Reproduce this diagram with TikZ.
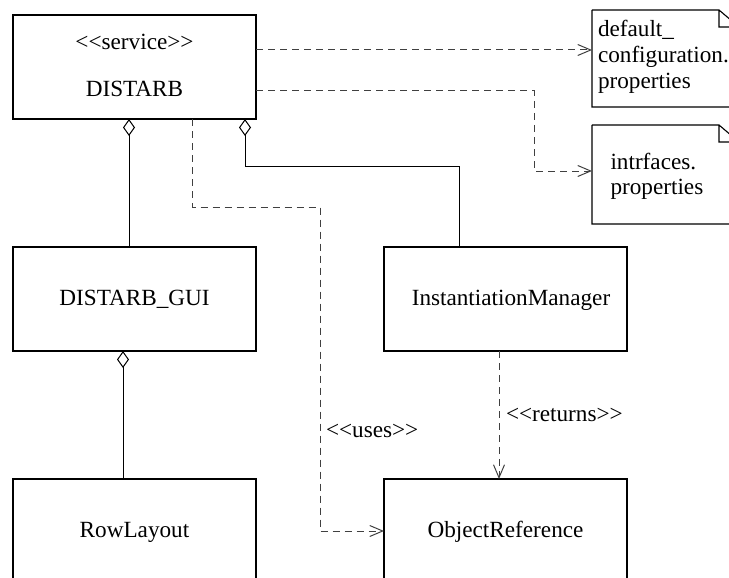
\documentclass[tikz,border=0pt]{standalone}
\usepackage{fontspec}
\newfontfamily\ser{Liberation Serif}
\usetikzlibrary{arrows.meta}
\begin{document}
\begin{tikzpicture}[x=1pt,y=-1pt,
  box/.style={draw, line width=1.1pt, minimum width=243pt, minimum height=104pt, inner sep=0pt, outer sep=0pt},
  txt/.style={font=\ser\fontsize{23.2}{27}\selectfont, inner sep=0pt, outer sep=0pt, anchor=base},
  txtl/.style={txt, anchor=base west},
  dep/.style={draw=black!75, line width=1pt, dash pattern=on 7pt off 5pt, -{Straight Barb[length=13pt,width=11pt,line width=1pt]}},
  gen/.style={line width=1pt, -{Diamond[open,length=17pt,width=12pt,line width=1pt]}},
  note/.style={line width=1.1pt},
  anchorbox/.style={inner sep=0pt, outer sep=0pt, anchor=north west}
]
\useasboundingbox (0,0) rectangle (729,578);
\clip (0,0) rectangle (729,578);

% class boxes
\node[box] (dist) at (134.5,67) {};
\node[box] (gui) at (134.5,299) {};
\node[box] (im) at (505.5,299) {};
\node[box] (row) at (134.5,531) {};
\node[box] (obj) at (505.5,531) {};

% class texts
\node[txt] (tserv) at (134.5,50) {<<service>>};
\node[txt] (tdist) at (134.5,97) {DISTARB};
\node[txt] (tgui) at (134.5,305) {DISTARB\_GUI};
\node[txt] (tim) at (511,305) {InstantiationManager};
\node[txt] (trow) at (134.5,537) {RowLayout};
\node[txt] (tobj) at (505.5,537) {ObjectReference};

% notes
\node[anchorbox, minimum width=150pt, minimum height=97pt] (n1) at (592,10) {};
\node[anchorbox, minimum width=150pt, minimum height=99pt] (n2) at (592,125) {};
\draw[note] (n1.north west) -- ++(127,0) -- ++(20,17) (n1.north west) ++(127,0) -- ++(0,17) -- ++(20,0)
  (n1.north west) -- (n1.south west) -- (n1.south east);
\draw[note] (n2.north west) -- ++(127,0) -- ++(20,17) (n2.north west) ++(127,0) -- ++(0,17) -- ++(20,0)
  (n2.north west) -- (n2.south west) -- (n2.south east);
\node[txtl] (n1a) at (598,37) {default\_};
\node[txtl] (n1b) at (598,63) {configuration.};
\node[txtl] (n1c) at (598,88.5) {properties};
\node[txtl] (n2a) at (610.5,169) {intrfaces.};
\node[txtl] (n2b) at (610.5,194) {properties};

% connectors
\coordinate (k2) at (534,171);
\coordinate (u1) at (320,207);
\coordinate (g5) at (245,166);
\draw[dep] ([yshift=17pt]dist.east) -- ([yshift=17pt]dist.east -| n1.west);
\draw[dep] ([yshift=-24pt]dist.east) -| (k2) -- (k2 -| n2.west);
\draw[dep] ([xshift=179.7pt]dist.south west) |- (u1) -- (u1 |- obj.west) -- (obj.west);
\draw[gen] ([xshift=116pt]gui.north west) -- ([xshift=116pt]dist.south west);
\draw[gen] ([xshift=75pt]im.north west) |- (g5) -- ([xshift=232pt]dist.south west);
\draw[gen] ([xshift=110pt]row.north west) -- ([xshift=110pt]gui.south west);
\draw[dep] ([xshift=115pt]im.south west) -- ([xshift=115pt]obj.north west);

% labels
\node[txtl] (luses) at (326,437) {<<uses>>};
\node[txtl] (lret) at (506,421) {<<returns>>};
\end{tikzpicture}
\end{document}
